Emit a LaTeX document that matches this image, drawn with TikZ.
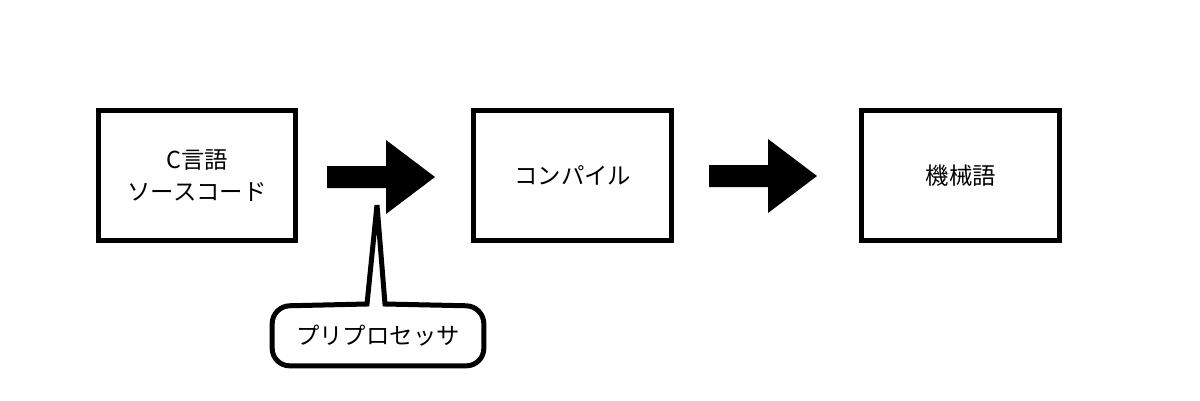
\documentclass[tikz,border=0pt]{standalone}
\usepackage{fontspec}
\setmainfont{Noto Sans CJK JP}
\usetikzlibrary{positioning}

\tikzset{
 stagebox/.style={draw, line width=0.1cm, minimum width=3.96cm, minimum height=2.6cm, align=center, font=\fontsize{13.3}{18}\selectfont},
 calloutline/.style={draw, line width=0.1cm, fill=white}
}
% block arrow, #1 = left end of the shaft
\newcommand{\blockarrow}[1]{\fill #1 ++(0,-11) -- ++(59,0) -- ++(0,-26) -- ++(49,37) -- ++(-49,37) -- ++(0,-26) -- ++(-59,0) -- cycle;}

\begin{document}
\begin{tikzpicture}[x=0.02cm, y=-0.02cm]
 \useasboundingbox (0,0) rectangle (1200,400);
 \node[stagebox] (src) at (197,175.5) {C言語\\ソースコード};
 \node[stagebox, right=3.46cm of src] (comp) {コンパイル};
 \node[stagebox, right=3.7cm of comp] (mach) {機械語};

 \blockarrow{(327,177)}
 \blockarrow{(709,176)}

 % preprocessor callout
 \coordinate (ptip) at (377,205);
 \node[minimum width=4.22cm, minimum height=1.18cm, font=\fontsize{13.3}{18}\selectfont] (pre) at (378,336) {プリプロセッサ};
 \draw[calloutline] (ptip) -- (367,304) [rounded corners=10] -- (pre.north west) -- (pre.south west) -- (pre.south east) -- (pre.north east) [sharp corners] -- (385,304) -- cycle;
 \node[font=\fontsize{13.3}{18}\selectfont] at (pre) {プリプロセッサ};
\end{tikzpicture}
\end{document}
